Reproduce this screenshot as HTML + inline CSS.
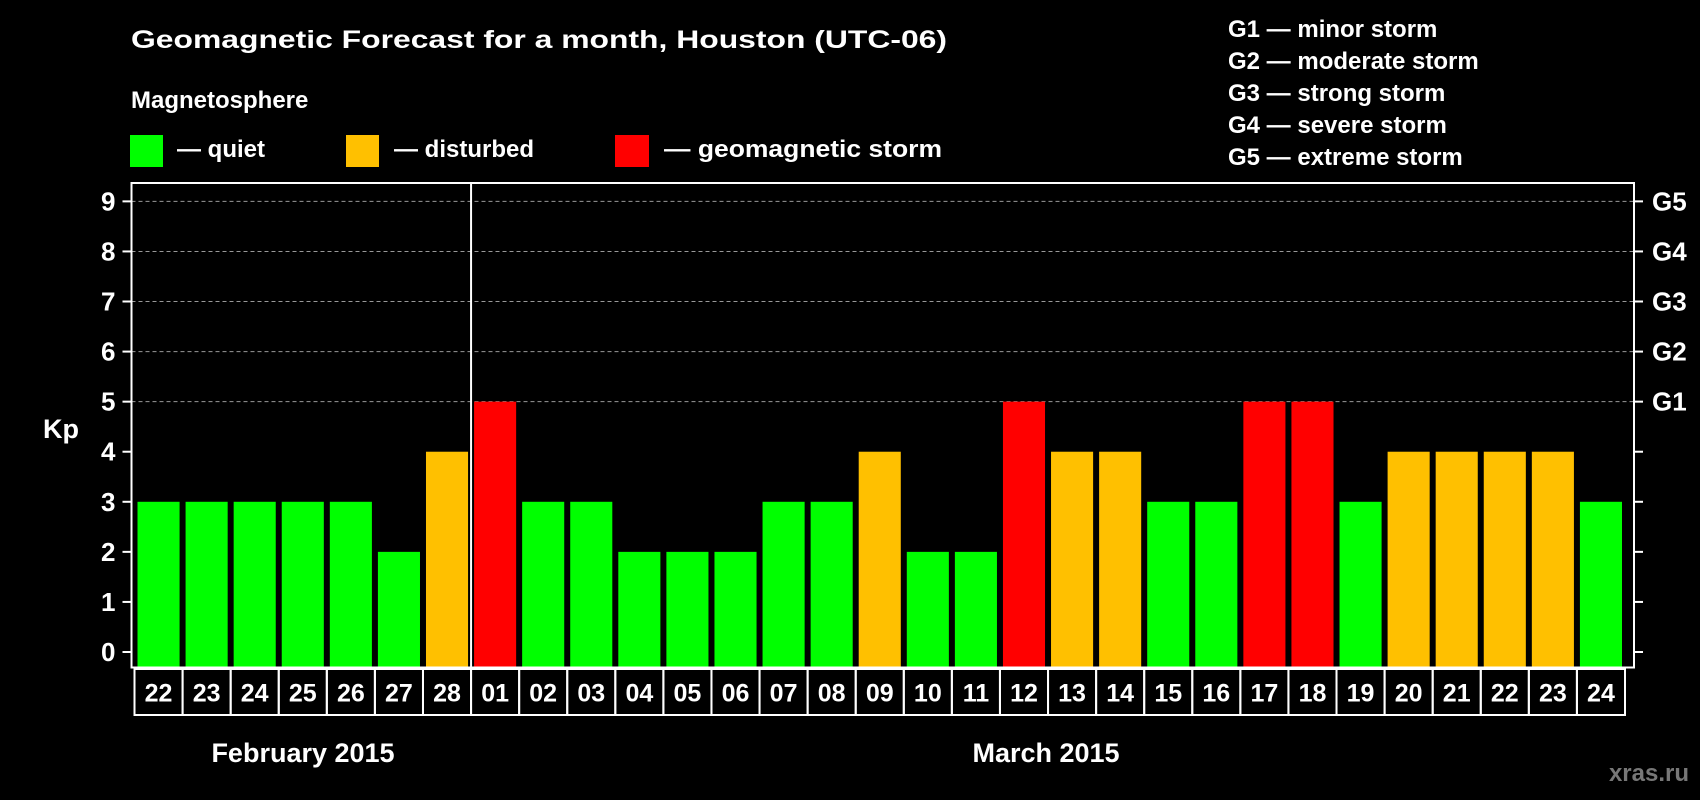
<!DOCTYPE html>
<html><head><meta charset="utf-8"><style>
html,body{margin:0;padding:0;background:#000;}
svg{display:block;font-family:"Liberation Sans",sans-serif;font-weight:bold;}
</style></head><body>
<svg id="chart" width="1700" height="800" viewBox="0 0 1700 800">
<rect x="0" y="0" width="1700" height="800" fill="#000"/>
<text x="131" y="48" fill="#fff" font-size="25" textLength="816" lengthAdjust="spacingAndGlyphs">Geomagnetic Forecast for a month, Houston (UTC-06)</text>
<text x="131" y="108" fill="#fff" font-size="24">Magnetosphere</text>
<g><rect x="130" y="135" width="33" height="32" fill="#00ff00"/><text x="177" y="157" fill="#fff" font-size="24">— quiet</text></g>
<g><rect x="346" y="135" width="33" height="32" fill="#ffc000"/><text x="394" y="157" fill="#fff" font-size="24">— disturbed</text></g>
<g><rect x="615" y="135" width="34" height="32" fill="#ff0000"/><text x="664" y="157" fill="#fff" font-size="24" textLength="278" lengthAdjust="spacingAndGlyphs">— geomagnetic storm</text></g>
<g font-size="24" fill="#fff">
<text x="1228" y="37">G1 — minor storm</text>
<text x="1228" y="69">G2 — moderate storm</text>
<text x="1228" y="101">G3 — strong storm</text>
<text x="1228" y="133">G4 — severe storm</text>
<text x="1228" y="165">G5 — extreme storm</text>
</g>
<g id="plot"></g>
<text x="43" y="438" fill="#fff" font-size="27">Kp</text>
<text x="303" y="762" fill="#fff" font-size="27" text-anchor="middle">February 2015</text>
<text x="1046" y="762" fill="#fff" font-size="27" text-anchor="middle">March 2015</text>
<text x="1689" y="781" fill="#777" font-size="24" text-anchor="end">xras.ru</text>
</svg>
<script>
const days = ["22","23","24","25","26","27","28","01","02","03","04","05","06","07","08","09","10","11","12","13","14","15","16","17","18","19","20","21","22","23","24"];
const kpValues = [3,3,3,3,3,2,4,5,3,3,2,2,2,3,3,4,2,2,5,4,4,3,3,5,5,3,4,4,4,4,3];
const yTicks = [0,1,2,3,4,5,6,7,8,9];
const gLabels = ["G1","G2","G3","G4","G5"];
const NS="http://www.w3.org/2000/svg";
const g=document.getElementById('plot');
const L=131.5,R=1634,T=183,B=667.5;
const y0=652,unit=50.07;
const y=v=>y0-v*unit;
const pitch=(R-L-12)/days.length;
const xb=i=>L+6+i*pitch;
function mk(t,a){const e=document.createElementNS(NS,t);for(const k in a)e.setAttribute(k,a[k]);g.appendChild(e);return e;}
// gridlines
yTicks.forEach(v=>{
 if(v>=5){const ln=mk('line',{x1:L,x2:R,y1:y(v),y2:y(v),stroke:'#999','stroke-dasharray':'4,3','stroke-width':1});
 
 }
 const t1=mk('line',{x1:L-9,x2:L,y1:y(v),y2:y(v),stroke:'#fff','stroke-width':2});
 
 
 const t2=mk('line',{x1:R,x2:R+9,y1:y(v),y2:y(v),stroke:'#fff','stroke-width':2});
 
 
 const tx=mk('text',{x:L-16,y:y(v)+9,fill:'#fff','font-size':26,'text-anchor':'end'});
 tx.textContent=v;
 
 
});
gLabels.forEach((lb,i)=>{
 const tx=mk('text',{x:1652,y:y(5+i)+9,fill:'#fff','font-size':26});
 tx.textContent=lb;
 
 
});
// bars
kpValues.forEach((v,i)=>{
 const c=v>=5?'#ff0000':(v>=4?'#ffc000':'#00ff00');
 const b=mk('rect',{x:xb(i),y:y(v),width:pitch-6,height:B-y(v),fill:c});
 
 
 const bx=mk('rect',{x:xb(i)-3,y:B+1.5,width:pitch,height:46,fill:'none',stroke:'#fff','stroke-width':2});
 
 
 const t=mk('text',{x:xb(i)-3+pitch/2,y:B+34,fill:'#fff','font-size':25,'text-anchor':'middle'});
 t.textContent=days[i];
 
 
});
// frame
const fr=mk('rect',{x:L,y:T,width:R-L,height:B-T,fill:'none',stroke:'#fff','stroke-width':2});


const mi=days.indexOf("01");
const sep=mk('line',{x1:xb(mi)-3,x2:xb(mi)-3,y1:T,y2:B,stroke:'#fff','stroke-width':2});


</script>
</body></html>
